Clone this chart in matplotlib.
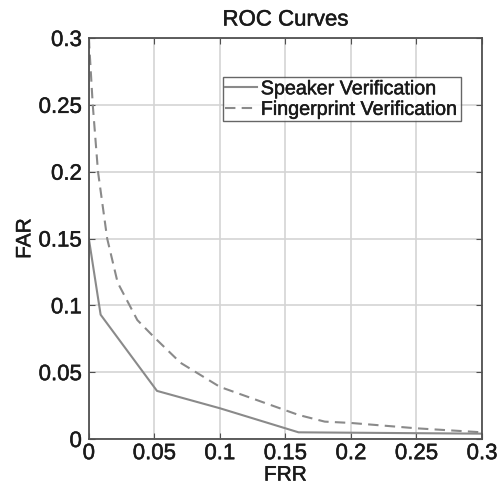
import matplotlib
matplotlib.use("Agg")
import matplotlib.pyplot as plt
import matplotlib.patheffects as pe

plt.rcParams['font.family'] = ['Liberation Sans', 'DejaVu Sans']

# ROC operating points (FRR, FAR)
speaker_frr = [0.0, 0.009, 0.052, 0.10, 0.15, 0.16, 0.30]
speaker_far = [0.150, 0.093, 0.036, 0.023, 0.008, 0.005, 0.004]

finger_frr = [0.0, 0.003, 0.007, 0.014, 0.022, 0.037, 0.05, 0.07, 0.10,
              0.14, 0.16, 0.18, 0.20, 0.25, 0.30]
finger_far = [0.300, 0.250, 0.200, 0.150, 0.117, 0.089, 0.076, 0.057, 0.039,
              0.025, 0.018, 0.013, 0.012, 0.008, 0.005]

ticks = [0, 0.05, 0.1, 0.15, 0.2, 0.25, 0.3]
tick_labels = ['0', '0.05', '0.1', '0.15', '0.2', '0.25', '0.3']

# slightly heavier glyphs for all text
thick = [pe.withStroke(linewidth=0.35, foreground='#1a1a1a')]

fig = plt.figure(figsize=(4.99, 4.88), dpi=100)
ax = fig.add_axes([0.178, 0.1004, 0.788, 0.8217])

line_col = '#8a8a8a'
ax.plot(speaker_frr, speaker_far, '-', color=line_col, lw=1.5,
        label='Speaker Verification')
ax.plot(finger_frr, finger_far, '--', color=line_col, lw=1.5,
        dashes=(5, 3), label='Fingerprint Verification')

ax.set_xlim(0, 0.3)
ax.set_ylim(0, 0.3)
ax.set_xticks(ticks)
ax.set_yticks(ticks)
ax.set_xticklabels(tick_labels)
ax.set_yticklabels(tick_labels)

ax.grid(True, color='#d4d4d4', lw=1.2)
ax.set_axisbelow(True)
for s in ax.spines.values():
    s.set_color('#505050')
    s.set_linewidth(1.3)

ax.tick_params(direction='in', top=True, right=True, length=4,
               color='#505050', labelsize=16, labelcolor='#1a1a1a')
ax.tick_params(axis='x', pad=3)
ax.tick_params(axis='y', pad=5)

ax.set_title('ROC Curves', fontsize=16, pad=9, color='#1a1a1a')
ax.set_xlabel('FRR', fontsize=15, labelpad=1, color='#1a1a1a')
ax.set_ylabel('FAR', fontsize=15, labelpad=3, color='#1a1a1a')

leg = ax.legend(loc='upper left', bbox_to_anchor=(0.341, 0.903),
                fontsize=14.2, frameon=True, fancybox=False,
                handlelength=1.6, handletextpad=0.2, borderpad=0.12,
                labelspacing=0.08, borderaxespad=0)
leg.get_frame().set_edgecolor('#404040')
leg.get_frame().set_linewidth(1.0)
for t in leg.get_texts():
    t.set_color('#1a1a1a')

texts = (ax.get_xticklabels() + ax.get_yticklabels() + leg.get_texts()
         + [ax.title, ax.xaxis.label, ax.yaxis.label])
for t in texts:
    t.set_path_effects(thick)

fig.savefig('out.png', dpi=100)
